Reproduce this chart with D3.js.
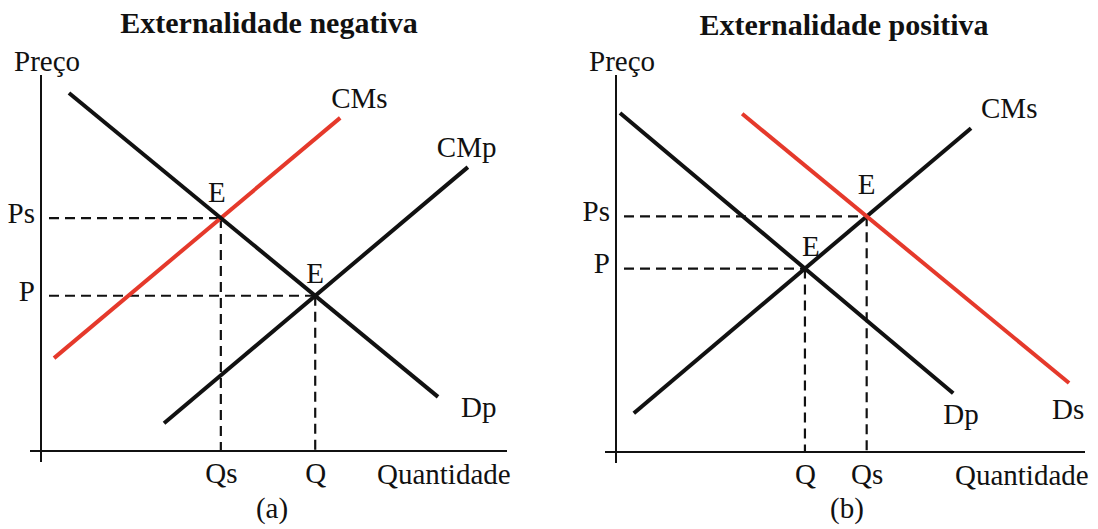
<!DOCTYPE html>
<html>
<head>
<meta charset="utf-8">
<script src="https://cdn.jsdelivr.net/npm/d3@7"></script>
<style>
  body { margin: 0; background: #fff; }
  text { font-family: "Liberation Serif", "Times New Roman", serif; fill: #111; }
</style>
</head>
<body>
<svg id="chart"></svg>
<script>
// curves, as [quantidade, preco] end points (0..100 units)
const negDp = [[6.0, 95.2], [85.2, 14.4]];
const negCMs = [[2.8, 24.7], [64.2, 88.6]];
const negCMp = [[26.4, 7.4], [91.6, 75.5]];
const posDp = [[0.85, 89.9], [71.9, 15.6]];
const posDs = [[26.9, 89.7], [96.6, 18.3]];
const posCMs = [[3.8, 10.3], [75.7, 85.9]];

const titles = ["Externalidade negativa", "Externalidade positiva"];
const panelTags = ["(a)", "(b)"];
// order: social equilibrium first, private second
const priceLabels = ["Ps", "P"];
const qtyLabels = ["Qs", "Q"];

const W = 1098, H = 529;
const RED = "#e5392b";

const svg = d3.select("#chart").attr("width", W).attr("height", H);

// intersection of two segments' lines
function cross(a, b) {
  const m1 = (a[1][1] - a[0][1]) / (a[1][0] - a[0][0]);
  const m2 = (b[1][1] - b[0][1]) / (b[1][0] - b[0][0]);
  const x = (b[0][1] - a[0][1] + m1 * a[0][0] - m2 * b[0][0]) / (m1 - m2);
  return [x, a[0][1] + m1 * (x - a[0][0])];
}

function drawPanel(p) {
  const x = d3.scaleLinear().domain([0, 100]).range(p.xr);
  const y = d3.scaleLinear().domain([0, 100]).range(p.yr);
  const g = svg.append("g");
  const line = d3.line().x(d => x(d[0])).y(d => y(d[1]));

  // axes lines
  g.append("line")
    .attr("x1", x(0)).attr("x2", x(0))
    .attr("y1", y(100)).attr("y2", y(0) + 11)
    .attr("stroke", "#111").attr("stroke-width", 2);
  g.append("line")
    .attr("x1", x(0) - 11).attr("x2", x(100))
    .attr("y1", y(0)).attr("y2", y(0))
    .attr("stroke", "#111").attr("stroke-width", 2);

  // dashed guides
  p.eq.forEach(e => {
    g.append("path")
      .attr("d", line([[e[0], e[1]], [e[0], 0]]))
      .attr("stroke", "#111").attr("stroke-width", 2.2)
      .attr("stroke-dasharray", "10,6").attr("fill", "none");
    g.append("path")
      .attr("d", `M${x(0) + 8},${y(e[1])}L${x(e[0])},${y(e[1])}`)
      .attr("stroke", "#111").attr("stroke-width", 2.2)
      .attr("stroke-dasharray", "10,6").attr("fill", "none");
  });

  // curves
  p.curves.forEach(c => {
    g.append("path")
      .attr("d", line(c.data))
      .attr("stroke", c.color).attr("stroke-width", 4)
      .attr("fill", "none");
    const end = c.data[1];
    g.append("text")
      .attr("x", x(end[0]) + c.off[0]).attr("y", y(end[1]) + c.off[1])
      .attr("font-size", 29)
      .text(c.name);
  });

  // E labels
  p.eq.forEach((e, i) => {
    g.append("text")
      .attr("x", x(e[0]) + p.eOff[i][0]).attr("y", y(e[1]) + p.eOff[i][1])
      .attr("text-anchor", "middle").attr("font-size", 29)
      .text("E");
  });

  // tick labels via axes
  const xAxis = d3.axisBottom(x)
    .tickValues(p.eq.map(e => e[0]))
    .tickFormat((d, i) => qtyLabels[i])
    .tickSize(0).tickPadding(11);
  g.append("g").attr("transform", `translate(0,${y(0)})`).call(xAxis)
    .call(a => a.select(".domain").remove())
    .selectAll("text").attr("font-size", 29).attr("font-family", null).attr("fill", null);
  const yAxis = d3.axisLeft(y)
    .tickValues(p.eq.map(e => e[1]))
    .tickFormat((d, i) => priceLabels[i])
    .tickSize(0).tickPadding(6);
  g.append("g").attr("transform", `translate(${x(0)},0)`).call(yAxis)
    .call(a => a.select(".domain").remove())
    .selectAll("text").attr("font-size", 29).attr("dy", "0.15em")
    .attr("font-family", null).attr("fill", null);

  // titles & axis names
  g.append("text").attr("x", p.titleX).attr("y", p.titleY)
    .attr("text-anchor", "middle").attr("font-size", 30).attr("font-weight", "bold")
    .text(p.title);
  g.append("text").attr("x", x(0) - 27).attr("y", y(100) - 4)
    .attr("font-size", 29).text("Preço");
  g.append("text").attr("x", p.qtyX).attr("y", y(0) + 33)
    .attr("font-size", 29).text("Quantidade");
  g.append("text").attr("x", p.titleX + 3).attr("y", 518)
    .attr("text-anchor", "middle").attr("font-size", 29).text(p.tag);
}

drawPanel({
  xr: [41, 507], yr: [451, 75],
  title: titles[0], titleX: 269, titleY: 33, tag: panelTags[0], qtyX: 377,
  curves: [
    { name: "CMs", data: negCMs, color: RED, off: [-9, -10] },
    { name: "CMp", data: negCMp, color: "#111", off: [-31, -10] },
    { name: "Dp", data: negDp, color: "#111", off: [23, 20] }
  ],
  eq: [cross(negDp, negCMs), cross(negDp, negCMp)],
  eOff: [[-4, -16], [0, -13]]
});

drawPanel({
  xr: [616, 1085], yr: [452, 75],
  title: titles[1], titleX: 844, titleY: 35, tag: panelTags[1], qtyX: 955,
  curves: [
    { name: "CMs", data: posCMs, color: "#111", off: [10, -10] },
    { name: "Dp", data: posDp, color: "#111", off: [-10, 31] },
    { name: "Ds", data: posDs, color: RED, off: [-17, 36] }
  ],
  eq: [cross(posDs, posCMs), cross(posDp, posCMs)],
  eOff: [[0, -22], [6, -13]]
});
</script>
</body>
</html>
